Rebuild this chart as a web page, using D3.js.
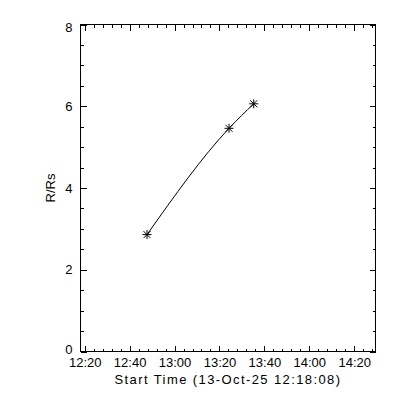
<!DOCTYPE html>
<html>
<head>
<meta charset="utf-8">
<script src="https://cdn.jsdelivr.net/npm/d3@7"></script>
<style>
  body { margin: 0; background: #fff; }
  text { font-family: "Liberation Sans", Arial, sans-serif; }
</style>
</head>
<body>
<script>
// data
var startLabel = '13-Oct-25 12:18:08';
var times = ['2025-10-13T12:47:45Z', '2025-10-13T13:24:15Z', '2025-10-13T13:35:15Z'];
var heights = [2.86, 5.46, 6.06];
var xRange = ['2025-10-13T12:18:08Z', '2025-10-13T14:29:28Z'];
var yRange = [0, 8];

var width = 400, height = 400;
var pad = { left: 80.5, right: 24.5, top: 24.5, bottom: 48.5 };
var svg = d3.select('body').append('svg').attr('width', width).attr('height', height);

var x = d3.scaleUtc().domain(xRange.map(function(d){ return new Date(d); }))
  .range([pad.left, width - pad.right]);
var y = d3.scaleLinear().domain(yRange).range([height - pad.bottom, pad.top]);

var fmt = d3.utcFormat('%H:%M');
var majX = d3.utcMinute.every(20), minX = d3.utcMinute.every(4);

// x axes (ticks point inward)
svg.append('g').attr('transform', 'translate(0,' + (height - pad.bottom) + ')')
  .call(d3.axisBottom(x).ticks(minX).tickSize(-3).tickFormat(''));
svg.append('g').attr('transform', 'translate(0,' + (height - pad.bottom) + ')')
  .call(d3.axisBottom(x).ticks(majX).tickSize(-6).tickPadding(6).tickFormat(fmt));
svg.append('g').attr('transform', 'translate(0,' + pad.top + ')')
  .call(d3.axisTop(x).ticks(minX).tickSize(-3).tickFormat(''));
svg.append('g').attr('transform', 'translate(0,' + pad.top + ')')
  .call(d3.axisTop(x).ticks(majX).tickSize(-6).tickFormat(''));

// y axes
var minY = d3.range(0, 8.01, 0.5);
svg.append('g').attr('transform', 'translate(' + pad.left + ',0)')
  .call(d3.axisLeft(y).tickValues(minY).tickSize(-3).tickFormat(''));
var yLab = svg.append('g').attr('transform', 'translate(' + pad.left + ',0)')
  .call(d3.axisLeft(y).ticks(4).tickSize(-6).tickPadding(8).tickFormat(d3.format('d')));
svg.append('g').attr('transform', 'translate(' + (width - pad.right) + ',0)')
  .call(d3.axisRight(y).tickValues(minY).tickSize(-3).tickFormat(''));
svg.append('g').attr('transform', 'translate(' + (width - pad.right) + ',0)')
  .call(d3.axisRight(y).ticks(4).tickSize(-6).tickFormat(''));

svg.selectAll('.domain').remove();
svg.selectAll('.tick line').attr('stroke', '#000').attr('shape-rendering', 'crispEdges');
svg.selectAll('.tick text').attr('fill', '#000').style('font-size', '13px')
  .style('font-family', '"Liberation Sans", Arial, sans-serif');
// end labels are kept inside the frame like the original
yLab.selectAll('.tick text').attr('y', function(d){ return d === 8 ? 3 : (d === 0 ? -2 : 0); });

// frame
svg.append('rect').attr('x', pad.left).attr('y', pad.top)
  .attr('width', width - pad.right - pad.left).attr('height', height - pad.bottom - pad.top)
  .attr('fill', 'none').attr('stroke', '#000').attr('shape-rendering', 'crispEdges');

// titles
svg.append('text').attr('x', (pad.left + width - pad.right) / 2).attr('y', 384)
  .attr('text-anchor', 'middle').style('font-size', '13px').style('letter-spacing', '1.4px')
  .text('Start Time (' + startLabel + ')');
svg.append('text').attr('transform', 'translate(55,' + ((pad.top + height - pad.bottom) / 2) + ') rotate(-90)')
  .attr('text-anchor', 'middle').style('font-size', '13px').text('R/Rs');

// line + asterisks
var pts = times.map(function(t, i){ return [new Date(t), heights[i]]; });
var line = d3.line().x(function(d){ return x(d[0]); }).y(function(d){ return y(d[1]); })
  .curve(d3.curveMonotoneX);
svg.append('path').attr('d', line(pts)).attr('fill', 'none').attr('stroke', '#000').attr('stroke-width', 1);

var r = 4.5, q = 3.5;
var star = 'M' + (-r) + ',0H' + r + 'M0,' + (-r) + 'V' + r +
  'M' + (-q) + ',' + (-q) + 'L' + q + ',' + q + 'M' + (-q) + ',' + q + 'L' + q + ',' + (-q);
svg.selectAll('.star').data(pts).enter().append('path').attr('class', 'star')
  .attr('transform', function(d){ return 'translate(' + x(d[0]) + ',' + y(d[1]) + ')'; })
  .attr('d', star).attr('fill', 'none').attr('stroke', '#000').attr('stroke-width', 1);
</script>
</body>
</html>
